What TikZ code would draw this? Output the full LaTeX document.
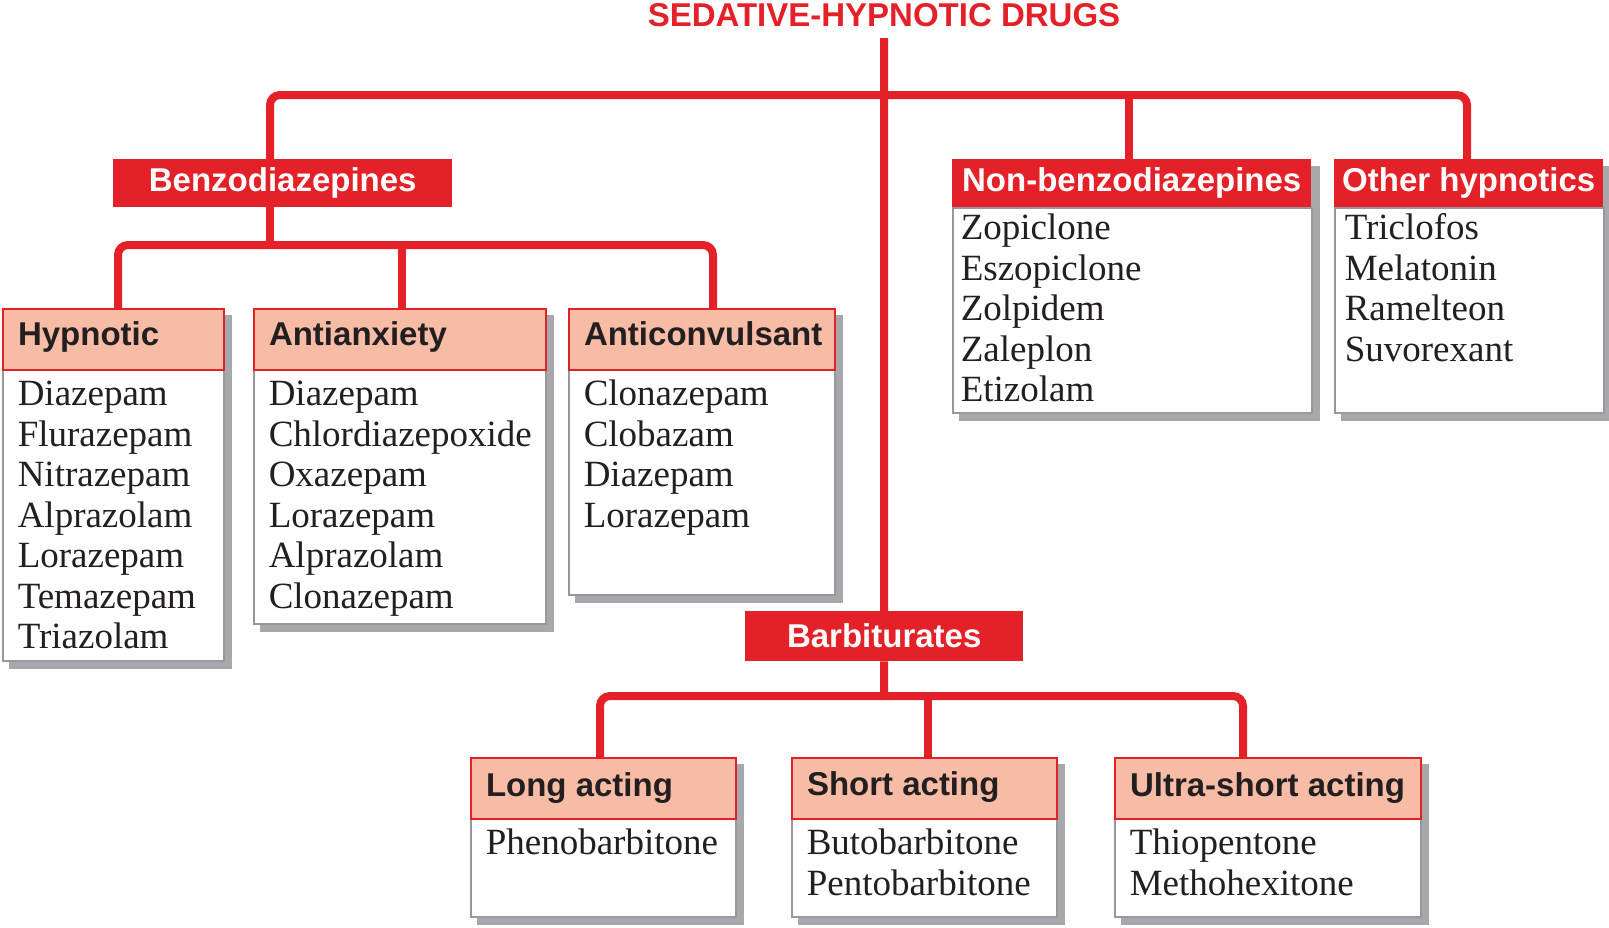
\documentclass[tikz,border=0pt]{standalone}
\usepackage{fontspec}
\setmainfont{Liberation Serif}
\newfontfamily\hsans{Liberation Sans}
\usetikzlibrary{calc,backgrounds}
\definecolor{myred}{RGB}{228,32,40}
\definecolor{mypink}{RGB}{247,188,166}
\definecolor{myshadow}{RGB}{166,168,171}
\definecolor{myborder}{RGB}{150,152,155}
\definecolor{mytext}{RGB}{35,31,32}
\begin{document}
\begin{tikzpicture}[x=1pt,y=-1pt,
 conn/.style={draw=myred,line width=8pt,rounded corners=10pt},
 hfont/.style={font=\hsans\bfseries\fontsize{33}{36}\selectfont},
 redbox/.style={hfont,fill=myred,text=white,inner sep=0pt,anchor=north west,text height=32pt,text depth=16pt},
 pinkhead/.style={hfont,fill=mypink,draw=myred,line width=2pt,text=mytext,inner sep=0pt,anchor=north west,text height=36pt,text depth=25pt},
 bodybox/.style={font=\fontsize{37}{40.5}\selectfont,fill=white,draw=myborder,line width=1.5pt,text=mytext,inner sep=0pt,anchor=north west},
 shade/.style={fill=myshadow}
]
\useasboundingbox (0,0) rectangle (1609,927);

% title
\node[hfont,text=myred,anchor=base,inner sep=0pt] (title) at (884,26) {SEDATIVE-HYPNOTIC DRUGS};

% top-level red boxes
\node[redbox] (benzo) at (113,159) {\makebox[339pt]{Benzodiazepines}};
\node[redbox,text height=36pt,text depth=14pt] (barb) at (745,611) {\makebox[278pt]{Barbiturates}};

% Non-benzodiazepines
\node[bodybox,text height=32pt,text depth=173pt] (nbb) at (952,207) {\parbox[t]{359pt}{\leftskip=8pt Zopiclone\\Eszopiclone\\Zolpidem\\Zaleplon\\Etizolam}};
\node[redbox] (nb) at (952,159) {\makebox[359pt]{Non-benzodiazepines}};

% Other hypnotics
\node[bodybox,text height=32pt,text depth=173pt] (othb) at (1334,207) {\parbox[t]{269pt}{\leftskip=10pt Triclofos\\Melatonin\\Ramelteon\\Suvorexant}};
\node[redbox] (oth) at (1334,159) {\makebox[269pt]{Other hypnotics}};

% Hypnotic
\node[bodybox,text height=36pt,text depth=255pt] (hypb) at (2,369) {\parbox[t]{221pt}{\leftskip=15pt Diazepam\\Flurazepam\\Nitrazepam\\Alprazolam\\Lorazepam\\Temazepam\\Triazolam}};
\node[pinkhead] (hyp) at (2,308) {\makebox[221pt][l]{\hspace{15pt}Hypnotic}};

% Antianxiety
\node[bodybox,text height=36pt,text depth=218pt] (anxb) at (253,369) {\parbox[t]{292pt}{\leftskip=15pt Diazepam\\Chlordiazepoxide\\Oxazepam\\Lorazepam\\Alprazolam\\Clonazepam}};
\node[pinkhead] (anx) at (253,308) {\makebox[292pt][l]{\hspace{15pt}Antianxiety}};

% Anticonvulsant
\node[bodybox,text height=36pt,text depth=189pt] (convb) at (568,369) {\parbox[t]{266pt}{\leftskip=15pt Clonazepam\\Clobazam\\Diazepam\\Lorazepam}};
\node[pinkhead] (conv) at (568,308) {\makebox[266pt][l]{\hspace{15pt}Anticonvulsant}};

% Long acting
\node[bodybox,text height=36pt,text depth=62pt] (longb) at (470,818) {\parbox[t]{265pt}{\leftskip=15pt Phenobarbitone}};
\node[pinkhead,text height=38pt,text depth=23pt] (long) at (470,757) {\makebox[265pt][l]{\hspace{15pt}Long acting}};

% Short acting
\node[bodybox,text height=36pt,text depth=62pt] (shortb) at (791,818) {\parbox[t]{265pt}{\leftskip=15pt Butobarbitone\\Pentobarbitone}};
\node[pinkhead,text height=37pt,text depth=24pt] (short) at (791,757) {\makebox[265pt][l]{\hspace{15pt}Short acting}};

% Ultra-short acting
\node[bodybox,text height=36pt,text depth=62pt] (ultrab) at (1114,818) {\parbox[t]{306pt}{\leftskip=15pt Thiopentone\\Methohexitone}};
\node[pinkhead,text height=38pt,text depth=23pt] (ultra) at (1114,757) {\makebox[306pt][l]{\hspace{15pt}Ultra-short acting}};

% junction coordinates
\coordinate (root) at (884,38);
\coordinate (busL) at (270,95);
\coordinate (busR) at (1467,95);
\coordinate (nbJ) at (1129,95);
\coordinate (bJ) at (270,245);
\coordinate (bL) at (118,245);
\coordinate (bM) at (402,245);
\coordinate (bR) at (713,245);
\coordinate (rJ) at (884,696);
\coordinate (rL) at (600,696);
\coordinate (rM) at (928,696);
\coordinate (rR) at (1243,696);

\begin{pgfonlayer}{background}
 \foreach \h/\b in {hyp/hypb,anx/anxb,conv/convb,nb/nbb,oth/othb,long/longb,short/shortb,ultra/ultrab}{
  \fill[shade] ($(\h.north west)+(7,7)$) rectangle ($(\b.south east)+(7,7)$);
 }
 % main tree
 \draw[conn] (root) -- (barb.north);
 \draw[conn] (benzo.north -| busL) -- (busL) -- (busR) -- (oth.north -| busR);
 \draw[conn] (nbJ) -- (nb.north -| nbJ);
 % benzodiazepine branches
 \draw[conn] (benzo.south -| bJ) -- (bJ);
 \draw[conn] (hyp.north -| bL) -- (bL) -- (bR) -- (conv.north -| bR);
 \draw[conn] (bM) -- (anx.north -| bM);
 % barbiturate branches
 \draw[conn] (barb.south) -- (rJ);
 \draw[conn] (long.north -| rL) -- (rL) -- (rR) -- (ultra.north -| rR);
 \draw[conn] (rM) -- (short.north -| rM);
\end{pgfonlayer}
\end{tikzpicture}
\end{document}
